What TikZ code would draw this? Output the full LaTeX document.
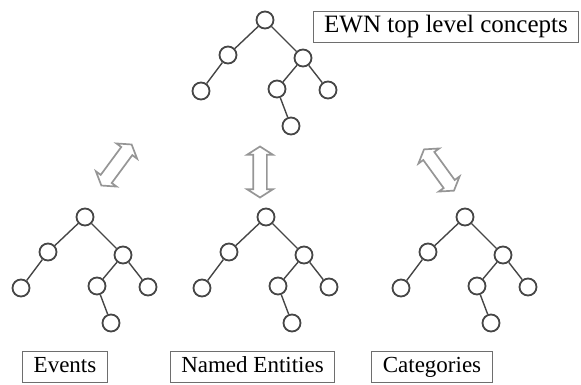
\documentclass[tikz,border=0pt]{standalone}
\usepackage{fontspec}
\setmainfont{Liberation Serif}
\usetikzlibrary{shapes.arrows}

\definecolor{treeline}{RGB}{70,70,70}
\definecolor{boxline}{RGB}{110,110,110}
\definecolor{arrowgray}{RGB}{150,150,150}

\tikzset{
  treenode/.style={circle, draw=treeline, line width=1.8pt, fill=white,
    minimum size=17pt, inner sep=0pt},
  treeedge/.style={draw=treeline, line width=1.4pt},
  labelbox/.style={draw=boxline, line width=1.2pt, fill=white,
    font=\fontsize{23}{25}\selectfont, inner xsep=11pt, inner ysep=5pt,
    text height=16pt, text depth=5pt},
  linkarrow/.style={double arrow, draw=arrowgray, line width=1.7pt, fill=white,
    minimum height=51pt, inner xsep=0pt, inner ysep=6pt,
    double arrow head extend=6pt, double arrow tip angle=115},
  pics/ewntree/.style={code={
    \node[treenode] (-r)  at (0,0)     {};
    \node[treenode] (-a)  at (-37,35)  {};
    \node[treenode] (-b)  at (38,38)   {};
    \node[treenode] (-aa) at (-64,71)  {};
    \node[treenode] (-ba) at (12,69)   {};
    \node[treenode] (-bb) at (63,70)   {};
    \node[treenode] (-bc) at (26,106)  {};
    \draw[treeedge] (-r) -- (-a) (-a) -- (-aa)
                    (-r) -- (-b) (-b) -- (-ba) (-b) -- (-bb)
                    (-ba) -- (-bc);
  }}
}

\begin{document}
\begin{tikzpicture}[x=1pt,y=-1pt]
  \useasboundingbox (0,0) rectangle (581,384);

  % the four trees
  \pic (top) at (265,20)  {ewntree};
  \pic (ev)  at (85,217)  {ewntree};
  \pic (ne)  at (266,217) {ewntree};
  \pic (cat) at (465,217) {ewntree};

  % labels
  \node[labelbox, font=\fontsize{25}{27}\selectfont] (ltop) at (446,27) {EWN top level concepts};
  \node[labelbox] (lev)  at (65,367)    {Events};
  \node[labelbox] (lne)  at (252.5,367) {Named Entities};
  \node[labelbox] (lcat) at (432,367)   {Categories};

  % links between the top concepts and each group
  \node[linkarrow, rotate=53.6] (arrev)  at (116.5,165) {};
  \node[linkarrow, rotate=90]   (arrne)  at (260,172)   {};
  \node[linkarrow, rotate=-54]  (arrcat) at (439,170)   {};
\end{tikzpicture}
\end{document}
